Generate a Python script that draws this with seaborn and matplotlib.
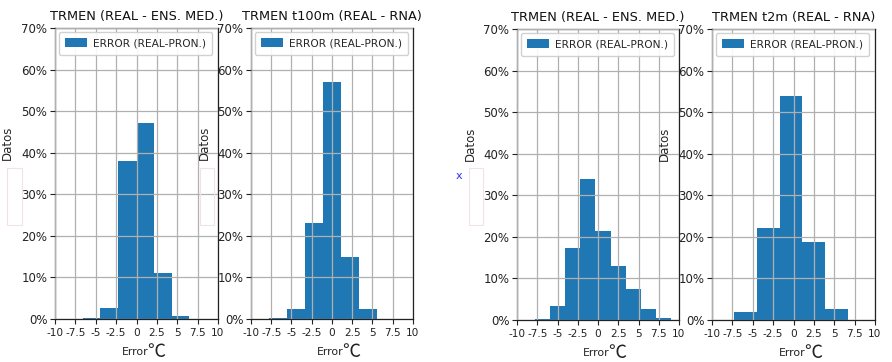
import numpy as np
import pandas as pd
import matplotlib
matplotlib.use('Agg')
import matplotlib.pyplot as plt
from matplotlib.ticker import PercentFormatter
from matplotlib.patches import Rectangle
import seaborn as sns

# histogram bins (degC) and share of data (%)
edges_ens_1 = [-6.6, -4.45, -2.25, 0.0, 2.15, 4.3, 6.5]
pct_ens_1 = [0.2, 2.7, 38.0, 47.2, 11.0, 0.8]

edges_t100 = [-7.8, -5.6, -3.35, -1.1, 1.1, 3.3, 5.5]
pct_t100 = [0.2, 2.5, 23.2, 57.0, 15.0, 2.3]

edges_ens_2 = [-7.8, -5.95, -4.05, -2.2, -0.35, 1.55, 3.4, 5.25, 7.15, 9.05]
pct_ens_2 = [0.3, 3.3, 17.3, 33.8, 21.3, 13.0, 7.5, 2.7, 0.4]

edges_t2m = [-7.3, -4.5, -1.7, 1.1, 3.9, 6.7]
pct_t2m = [2.0, 22.2, 54.0, 18.7, 2.6]

titles = ['TRMEN (REAL - ENS. MED.)', 'TRMEN t100m (REAL - RNA)',
          'TRMEN (REAL - ENS. MED.)', 'TRMEN t2m (REAL - RNA)']
xticks = [-10, -7.5, -5, -2.5, 0, 2.5, 5, 7.5, 10]
xtick_labels = ['-10', '-7.5', '-5', '-2.5', '0', '2.5', '5', '7.5', '10']
legend_label = 'ERROR (REAL-PRON.)'

sns.set_theme(style='ticks')
plt.rcParams['font.family'] = ['DejaVu Sans', 'Noto Sans CJK JP']

fig = plt.figure(figsize=(8.92, 3.62), dpi=100)
W, H = 892, 362
boxes = [(55, 218), (251, 413), (517, 679), (712, 875)]
tops = [28, 28, 29, 29]
bottoms = [319, 319, 320, 320]

panels = [(edges_ens_1, pct_ens_1), (edges_t100, pct_t100),
          (edges_ens_2, pct_ens_2), (edges_t2m, pct_t2m)]

for i, ((edges, pct), (l, r)) in enumerate(zip(panels, boxes)):
    ax = fig.add_axes([l / W, 1 - bottoms[i] / H, (r - l) / W, (bottoms[i] - tops[i]) / H])
    e = np.array(edges)
    df = pd.DataFrame({'error': (e[:-1] + e[1:]) / 2, 'pct': pct})
    sns.histplot(data=df, x='error', weights='pct', bins=list(edges), ax=ax,
                 color='#1f77b4', alpha=1, linewidth=0, label=legend_label)
    ax.set_xlim(-10, 10)
    ax.set_ylim(0, 70)
    ax.set_xticks(xticks)
    ax.set_xticklabels(xtick_labels)
    ax.set_yticks(range(0, 71, 10))
    ax.yaxis.set_major_formatter(PercentFormatter(xmax=100, decimals=0))
    ax.tick_params(axis='x', labelsize=7.6, pad=3)
    ax.tick_params(axis='y', labelsize=8.5, pad=2)
    ax.tick_params(colors='#222222', length=3.5, width=0.8)
    ax.grid(True, color='#b0b0b0', linewidth=0.9)
    ax.set_axisbelow(False)
    for s in ax.spines.values():
        s.set_color('#222222')
        s.set_linewidth(0.9)
    ax.set_title(titles[i], fontsize=9.3, pad=6, color='#111111')
    ax.set_ylabel('Datos', fontsize=8.5)
    ax.yaxis.set_label_coords(-0.25, 0.605)
    ax.set_xlabel('')
    ax.text(0.49, -0.113, 'Error', transform=ax.transAxes, fontsize=7.8,
            ha='center', va='center', color='#222222')
    ax.text(0.62, -0.113, '℃', transform=ax.transAxes, fontsize=13,
            ha='center', va='center', color='#222222',
            family=['Noto Sans CJK JP', 'DejaVu Sans'])
    ax.legend(loc='upper left', fontsize=7.7, handlelength=2.0, handleheight=0.9,
              handletextpad=0.6, borderaxespad=0.35, borderpad=0.6,
              framealpha=0.9)

# faint empty boxes and stray mark seen in the source image
for x0, x1 in [(7, 22), (200, 214), (469, 483)]:
    fig.patches.append(Rectangle((x0 / W, 1 - 225 / H), (x1 - x0) / W, 57 / H,
                                 transform=fig.transFigure, fill=False,
                                 edgecolor='#f2e2e2', linewidth=0.8))
fig.text(459 / W, 1 - 176 / H, 'x', color='#3030ff', fontsize=8,
         ha='center', va='center')

fig.savefig('out.png', dpi=100)
